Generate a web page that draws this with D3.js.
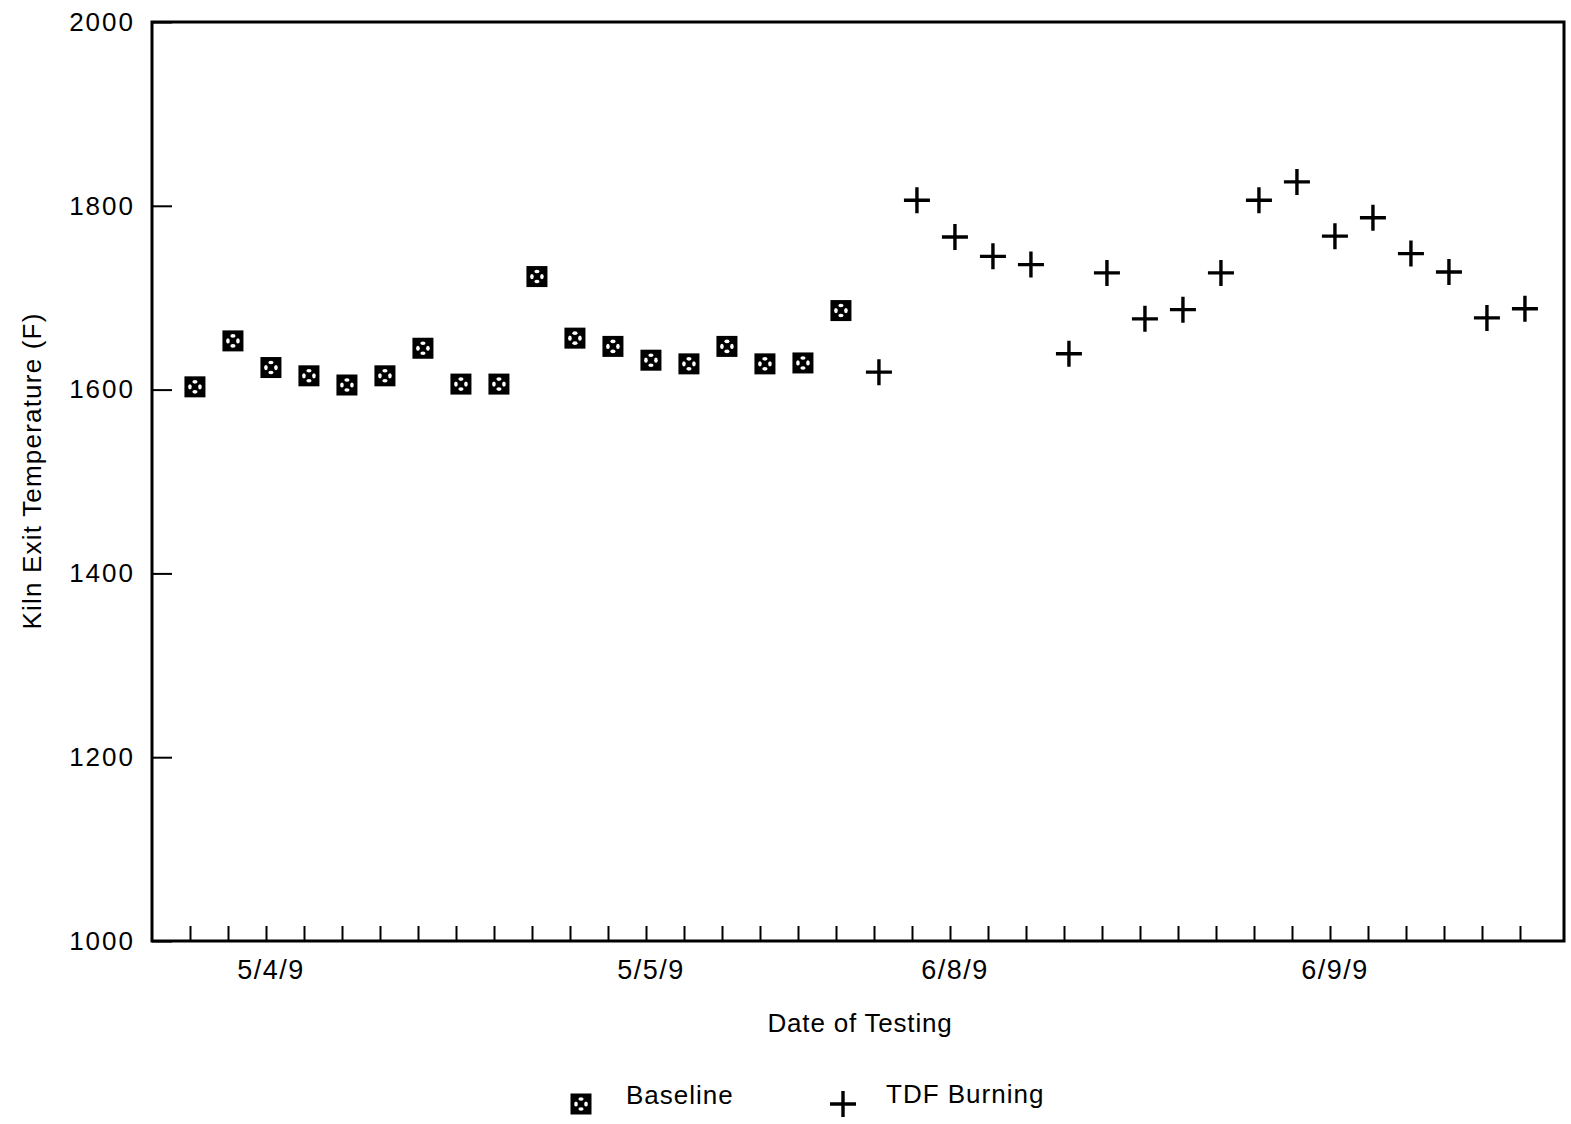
<!DOCTYPE html>
<html>
<head>
<meta charset="utf-8">
<script src="https://cdn.jsdelivr.net/npm/d3@7"></script>
<style>
  body { margin: 0; background: #fff; }
  svg { display: block; }
  text { font-family: "Liberation Sans", Arial, sans-serif; fill: #000; }
</style>
</head>
<body>
<svg id="kiln-graph" width="1571" height="1124"></svg>
<script>
// one value per test run
const baseline = [1603, 1653, 1624, 1615, 1605, 1615, 1645, 1606, 1606,
                  1723, 1656, 1647, 1632, 1628, 1647, 1628, 1629, 1686];
const tdf = [1619, 1806, 1766, 1745, 1736, 1639, 1727, 1677, 1687,
             1727, 1806, 1826, 1767, 1787, 1748, 1728, 1678, 1688];
const dateLabels = ['5/4/9', '5/5/9', '6/8/9', '6/9/9'];
const dateIndex = [2, 12, 20, 30];
const yTicks = [1000, 1200, 1400, 1600, 1800, 2000];

const svg = d3.select('#kiln-graph');
const frame = { left: 152, right: 1564, top: 22, bottom: 941 };
const nRuns = baseline.length + tdf.length;
const shift = 0.13; // points sit just right of their tick

const xScale = d3.scaleLinear()
  .domain([0, nRuns - 1])
  .range([190, 1520]);

const yScale = d3.scaleLinear()
  .domain([1000, 2000])
  .range([frame.bottom, frame.top]);

const points = baseline.map((v, i) => ({ i: i, v: v, kind: 'base' }))
  .concat(tdf.map((v, i) => ({ i: i + baseline.length, v: v, kind: 'tdf' })));

// frame
svg.append('rect')
  .attr('x', frame.left)
  .attr('y', frame.top)
  .attr('width', frame.right - frame.left)
  .attr('height', frame.bottom - frame.top)
  .attr('fill', 'none')
  .attr('stroke', '#000')
  .attr('stroke-width', 3);

// y axis
const yAxis = d3.axisLeft(yScale)
  .tickValues(yTicks)
  .tickSize(-20)
  .tickPadding(17)
  .tickFormat(d3.format('d'));

const yAxisG = svg.append('g')
  .attr('transform', `translate(${frame.left},0)`)
  .call(yAxis);
yAxisG.select('.domain').remove();
yAxisG.selectAll('line').attr('stroke', '#000').attr('stroke-width', 2);
yAxisG.selectAll('text')
  .style('font-size', '26px')
  .style('font-family', '"Liberation Sans", Arial, sans-serif')
  .attr('letter-spacing', 2);

svg.append('text')
  .attr('transform', 'rotate(-90)')
  .attr('x', -471)
  .attr('y', 41)
  .style('text-anchor', 'middle')
  .style('font-size', '26px')
  .attr('letter-spacing', 1.2)
  .text('Kiln Exit Temperature (F)');

// x axis: a tick for every run
const xAxis = d3.axisBottom(xScale)
  .tickValues(d3.range(nRuns))
  .tickSize(-15)
  .tickFormat('');

const xAxisG = svg.append('g')
  .attr('transform', `translate(0,${frame.bottom})`)
  .call(xAxis);
xAxisG.select('.domain').remove();
xAxisG.selectAll('line').attr('stroke', '#000').attr('stroke-width', 2);

svg.selectAll('.date-label')
  .data(dateLabels)
  .enter().append('text')
  .attr('class', 'date-label')
  .attr('x', (d, k) => xScale(dateIndex[k] + shift))
  .attr('y', 979)
  .style('text-anchor', 'middle')
  .style('font-size', '27px')
  .attr('letter-spacing', 1.5)
  .text(d => d);

svg.append('text')
  .attr('x', 860)
  .attr('y', 1032)
  .style('text-anchor', 'middle')
  .style('font-size', '26px')
  .attr('letter-spacing', 0.8)
  .text('Date of Testing');

// markers
const drawBase = (g) => {
  g.append('rect')
    .attr('x', -10.5).attr('y', -10.5)
    .attr('width', 21).attr('height', 21)
    .attr('fill', '#000');
  g.append('ellipse').attr('cx', 0).attr('cy', -5).attr('rx', 2.6).attr('ry', 1.8).attr('fill', '#fff');
  g.append('ellipse').attr('cx', 0).attr('cy', 5).attr('rx', 2.6).attr('ry', 1.8).attr('fill', '#fff');
  g.append('ellipse').attr('cx', -5).attr('cy', 0).attr('rx', 1.8).attr('ry', 2.6).attr('fill', '#fff');
  g.append('ellipse').attr('cx', 5).attr('cy', 0).attr('rx', 1.8).attr('ry', 2.6).attr('fill', '#fff');
};

const drawCross = (g) => {
  g.append('path')
    .attr('d', 'M-13,0H13M0,-13V13')
    .attr('stroke', '#000')
    .attr('stroke-width', 3.4)
    .attr('fill', 'none');
};

svg.append('g').selectAll('g')
  .data(points)
  .enter().append('g')
  .attr('transform', d => `translate(${xScale(d.i + shift)},${yScale(d.v)})`)
  .each(function(d) {
    if (d.kind === 'base') drawBase(d3.select(this));
    else drawCross(d3.select(this));
  });

// legend
const legend = svg.append('g');
drawBase(legend.append('g').attr('transform', 'translate(581,1104)'));
legend.append('text')
  .attr('x', 626).attr('y', 1104)
  .style('font-size', '26px')
  .attr('letter-spacing', 1)
  .text('Baseline');
drawCross(legend.append('g').attr('transform', 'translate(843,1104)'));
legend.append('text')
  .attr('x', 886).attr('y', 1103)
  .style('font-size', '26px')
  .attr('letter-spacing', 1)
  .text('TDF Burning');
</script>
</body>
</html>
